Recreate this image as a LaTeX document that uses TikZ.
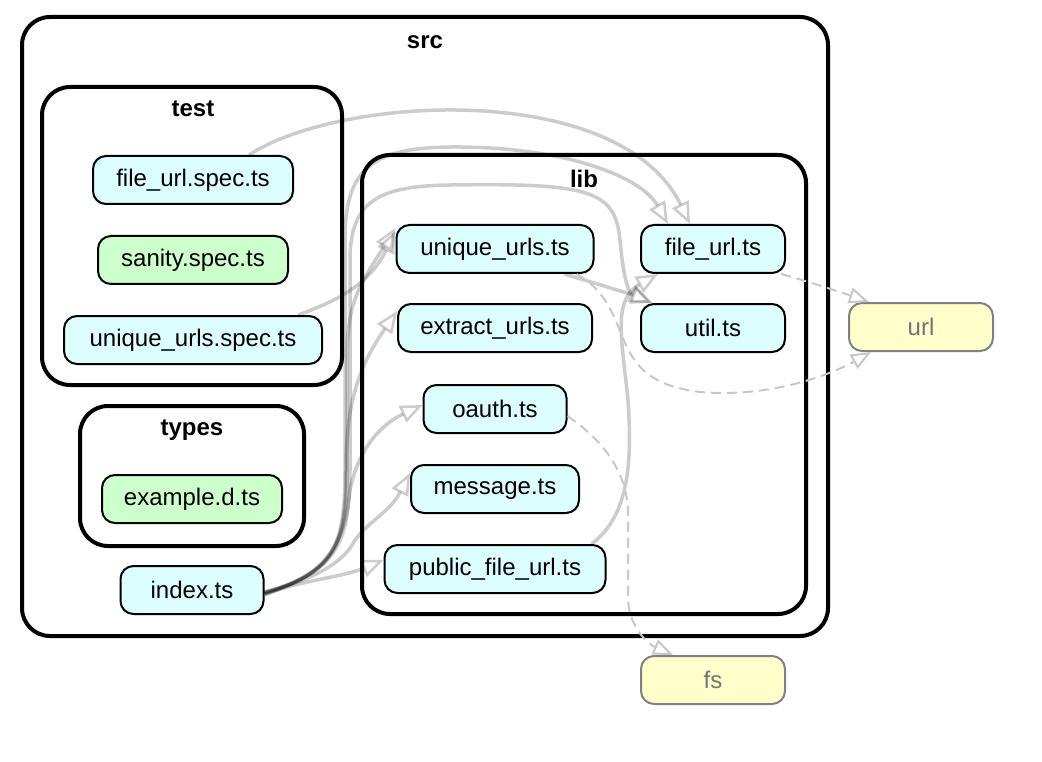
\documentclass[tikz,border=0pt]{standalone}
\usepackage{fontspec}
\setmainfont{Liberation Sans}
\usetikzlibrary{arrows.meta}
\definecolor{modfill}{HTML}{DDFEFF}
\definecolor{greenfill}{HTML}{CCFFCC}
\definecolor{extfill}{HTML}{FFFFCC}
\definecolor{extline}{HTML}{808080}
\definecolor{dashcol}{HTML}{C8C8C8}
\begin{document}
\begin{tikzpicture}[x=1pt,y=-1pt,
  mod/.style={draw=black, line width=2pt, rounded corners=13pt, fill=modfill,
    minimum height=48pt, inner sep=0pt, font=\fontsize{24}{28}\selectfont},
  gmod/.style={mod, fill=greenfill},
  ext/.style={mod, draw=extline, fill=extfill, text=black!55},
  cluster/.style={draw=black, line width=4pt, rounded corners=28pt},
  clabel/.style={font=\fontsize{24}{28}\selectfont\bfseries, inner sep=0pt},
  dep/.style={draw=black, draw opacity=0.2, line width=3.5pt,
    -{Triangle[open,length=22pt,width=18pt,line width=2.5pt]}},
  ddep/.style={draw=dashcol, line width=2pt, dash pattern=on 10pt off 6pt,
    -{Triangle[open,length=20pt,width=16pt,line width=2pt]}}
]
\useasboundingbox (0,0) rectangle (1042,762);

% clusters
\draw[cluster] (22,17) rectangle (828,636);
\node[clabel] (lsrc) at (425,42) {src};
\draw[cluster] (42,87) rectangle (342,385);
\node[clabel] (ltest) at (193,109) {test};
\draw[cluster] (80,406) rectangle (304,546);
\node[clabel] (ltypes) at (192,430) {types};
\draw[cluster] (362,155) rectangle (806,614);
\node[clabel] (llib) at (584,179) {lib};

% nodes
\node[mod, minimum width=200pt] (fspec) at (193,180) {file\_url.spec.ts};
\node[gmod, minimum width=190pt] (sanity) at (193,260) {sanity.spec.ts};
\node[mod, minimum width=258pt] (uspec) at (193,340) {unique\_urls.spec.ts};
\node[gmod, minimum width=180pt] (example) at (192,499) {example.d.ts};
\node[mod, minimum width=143pt] (index) at (192,590) {index.ts};
\node[mod, minimum width=197pt] (unique) at (495,249) {unique\_urls.ts};
\node[mod, minimum width=194pt] (extract) at (495,328) {extract\_urls.ts};
\node[mod, minimum width=143pt] (oauth) at (495,409) {oauth.ts};
\node[mod, minimum width=168pt] (message) at (495,489) {message.ts};
\node[mod, minimum width=221pt] (public) at (495,569) {public\_file\_url.ts};
\node[mod, minimum width=144pt] (fileurl) at (713,249) {file\_url.ts};
\node[mod, minimum width=144pt] (util) at (713,328) {util.ts};
\node[ext, minimum width=144pt] (url) at (921,327) {url};
\node[ext, minimum width=144pt] (fs) at (713,680) {fs};

% solid dependencies
\draw[dep] ([xshift=-45pt]fspec.north east) .. controls (340,95) and (620,80) .. ([xshift=-23pt]fileurl.north);
\draw[dep] ([xshift=-25pt]uspec.north east) .. controls (340,300) and (370,283) .. ([yshift=18pt]unique.west);
\draw[dep] ([yshift=-4pt]index.east) .. controls (335,572) and (347,545) .. (347,470) -- (347,360) .. controls (347,300) and (360,285) .. ([yshift=21pt]unique.west);
\draw[dep] ([yshift=-3pt]index.east) .. controls (335,572) and (345,545) .. (345,470) -- (345,240) .. controls (345,170) and (370,148) .. (450,147) .. controls (560,146) and (640,175) .. ([xshift=-45pt]fileurl.north);
\draw[dep] ([yshift=-2pt]index.east) .. controls (335,573) and (350,545) .. (350,470) -- (350,260) .. controls (350,200) and (380,186) .. (450,185) .. controls (590,183) and (615,190) .. (620,240) .. controls (623,275) and (628,292) .. ([xshift=-62pt]util.north);
\draw[dep] ([yshift=-4pt]index.east) .. controls (335,572) and (346,545) .. (346,470) .. controls (346,400) and (360,365) .. ([yshift=17pt]extract.west);
\draw[dep] ([yshift=-3pt]index.east) .. controls (330,575) and (345,540) .. (350,490) .. controls (360,440) and (390,420) .. ([yshift=4pt]oauth.west);
\draw[dep] ([yshift=-2pt]index.east) .. controls (320,578) and (345,560) .. (355,540) .. controls (370,520) and (390,512) .. ([yshift=16pt]message.west);
\draw[dep] ([yshift=-5pt]index.east) .. controls (300,580) and (340,578) .. ([yshift=9pt]public.west);
\draw[dep] ([xshift=-30pt]unique.south east) .. controls (600,285) and (625,292) .. ([xshift=-60pt]util.north);
\draw[dep] ([xshift=-15pt]public.north east) .. controls (630,515) and (632,460) .. (628,400) .. controls (622,340) and (612,300) .. ([xshift=-55pt]fileurl.south);

% dashed dependencies (external)
\draw[ddep] ([xshift=-5pt]fileurl.south east) .. controls (810,282) and (840,292) .. ([xshift=-52pt]url.north);
\draw[ddep] ([xshift=-18pt]unique.south east) .. controls (640,310) and (600,380) .. (700,392) .. controls (770,398) and (830,375) .. ([xshift=-50pt]url.south);
\draw[ddep] ([yshift=-7pt]oauth.east) .. controls (610,445) and (630,480) .. (628,520) -- (628,600) .. controls (630,630) and (650,645) .. ([xshift=-40pt]fs.north);
\end{tikzpicture}
\end{document}
